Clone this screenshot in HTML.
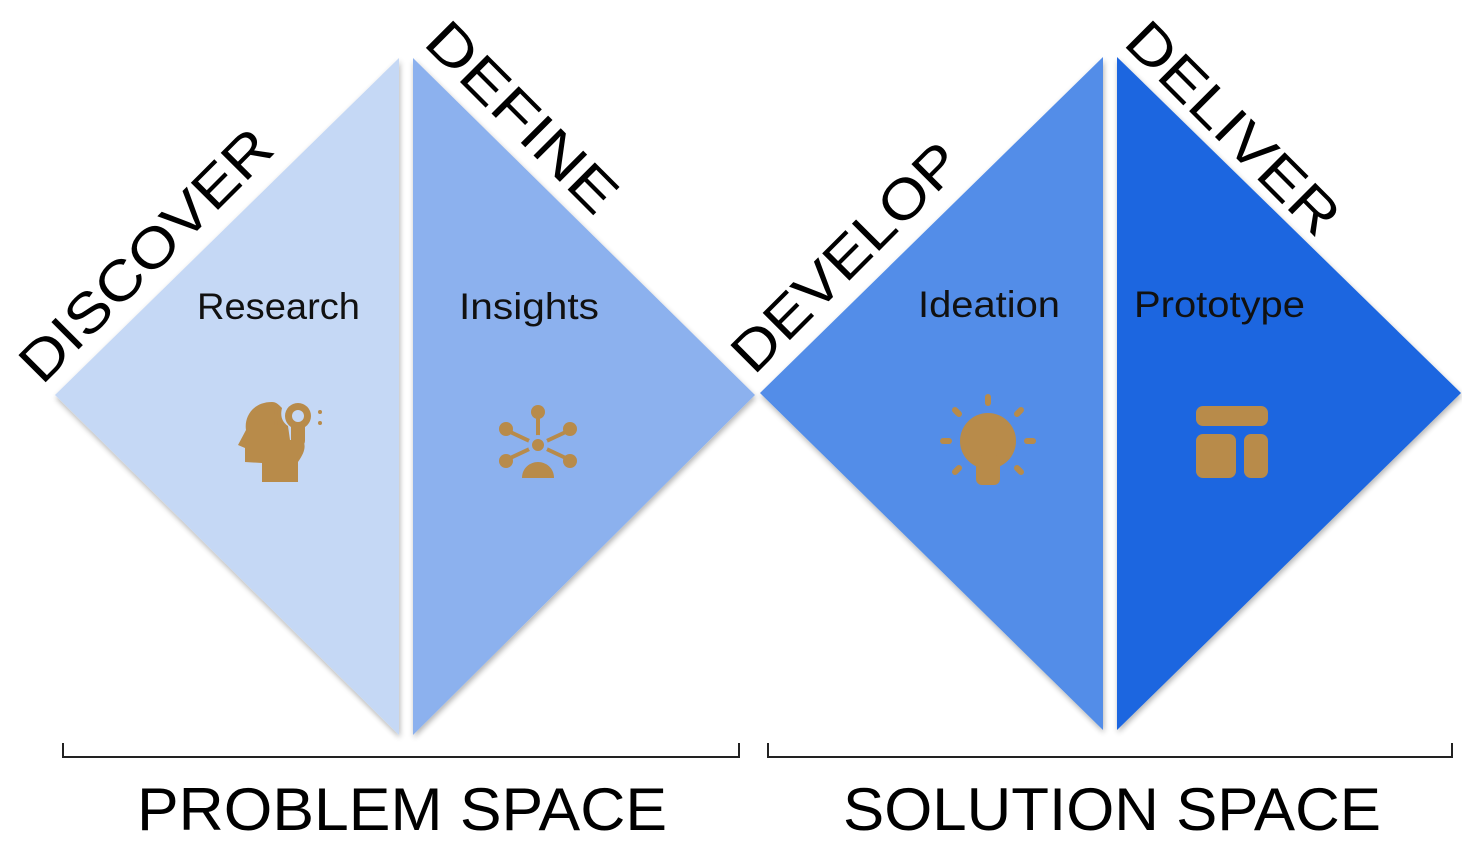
<!DOCTYPE html>
<html><head><meta charset="utf-8"><style>
html,body{margin:0;padding:0;background:#fff;}
svg{display:block;}
text{font-family:"Liberation Sans",sans-serif;}
</style></head><body>
<svg width="1462" height="848" viewBox="0 0 1462 848" xmlns="http://www.w3.org/2000/svg">
<defs>
<filter id="sh" x="-10%" y="-10%" width="120%" height="120%">
<feGaussianBlur in="SourceAlpha" stdDeviation="3"/>
<feOffset dx="1" dy="3"/>
<feComponentTransfer><feFuncA type="linear" slope="0.3"/></feComponentTransfer>
<feMerge><feMergeNode/><feMergeNode in="SourceGraphic"/></feMerge>
</filter>
</defs>
<g filter="url(#sh)">
<polygon points="55,395 399,58 399,735" fill="#c5d8f5"/>
<polygon points="413,58 755,395 413,735" fill="#8cb1ee"/>
<polygon points="760,393 1103,57 1103,730" fill="#528de8"/>
<polygon points="1117,57 1461,393 1117,730" fill="#1a66e0"/>
</g>

<g font-size="56" fill="#000">
<text transform="translate(42,386) rotate(-45)" textLength="332" lengthAdjust="spacingAndGlyphs">DISCOVER</text>
<text transform="translate(422,44) rotate(45)" textLength="245" lengthAdjust="spacingAndGlyphs">DEFINE</text>
<text transform="translate(754,376) rotate(-45)" textLength="298" lengthAdjust="spacingAndGlyphs">DEVELOP</text>
<text transform="translate(1122,44) rotate(45)" textLength="276" lengthAdjust="spacingAndGlyphs">DELIVER</text>
</g>

<g font-size="37" fill="#111">
<text x="197" y="319" textLength="163" lengthAdjust="spacingAndGlyphs">Research</text>
<text x="459" y="319" textLength="140" lengthAdjust="spacingAndGlyphs">Insights</text>
<text x="918" y="317" textLength="142" lengthAdjust="spacingAndGlyphs">Ideation</text>
<text x="1134" y="317" textLength="171" lengthAdjust="spacingAndGlyphs">Prototype</text>
</g>

<g fill="#b88b4a">
<path d="M272,402 C252,402 244,418 246,430 L238,445 L245,448 L245,462 L262,463 L262,482 L298,482 L298,462 C305,452 306,446 303,440 L290,440 L288,426 C282,422 280,416 282,408 C278,404 276,402 272,402 Z"/>
<circle cx="298" cy="416" r="13"/>
<rect x="291" y="420" width="14" height="26" rx="5"/>
<circle cx="298" cy="416" r="6" fill="#c5d8f5"/>
<circle cx="276" cy="412" r="2"/><circle cx="276" cy="423" r="2"/>
<circle cx="320" cy="412" r="2"/><circle cx="320" cy="423" r="2"/>
<g stroke="#b88b4a" stroke-width="4">
<line x1="538" y1="415" x2="538" y2="440"/>
<line x1="506" y1="430" x2="538" y2="445"/>
<line x1="570" y1="430" x2="538" y2="445"/>
<line x1="506" y1="460" x2="538" y2="445"/>
<line x1="570" y1="460" x2="538" y2="445"/>
</g>
<circle cx="538" cy="412" r="7"/>
<circle cx="506" cy="429" r="7"/><circle cx="570" cy="429" r="7"/>
<circle cx="506" cy="461" r="7"/><circle cx="570" cy="461" r="7"/>
<circle cx="538" cy="445" r="8" stroke="#8cb1ee" stroke-width="4"/>
<path d="M522,478 C522,468 530,462 538,462 C546,462 554,468 554,478 Z"/>
<circle cx="988" cy="441" r="28"/>
<rect x="976" y="455" width="24" height="30" rx="6"/>
<g stroke="#b88b4a" stroke-width="6" stroke-linecap="round">
<line x1="988" y1="397" x2="988" y2="403"/>
<line x1="955" y1="410" x2="959" y2="414"/>
<line x1="1021" y1="410" x2="1017" y2="414"/>
<line x1="943" y1="441" x2="949" y2="441"/>
<line x1="1027" y1="441" x2="1033" y2="441"/>
<line x1="955" y1="472" x2="959" y2="468"/>
<line x1="1021" y1="472" x2="1017" y2="468"/>
</g>
<rect x="1196" y="406" width="72" height="20" rx="7"/>
<rect x="1196" y="434" width="40" height="44" rx="7"/>
<rect x="1244" y="434" width="24" height="44" rx="7"/>
</g>

<g stroke="#222" stroke-width="2" fill="none">
<polyline points="63,743 63,757 739,757 739,743"/>
<polyline points="768,743 768,757 1452,757 1452,743"/>
</g>
<g font-size="60" fill="#000">
<text x="137" y="830" textLength="530" lengthAdjust="spacingAndGlyphs">PROBLEM SPACE</text>
<text x="843" y="830" textLength="538" lengthAdjust="spacingAndGlyphs">SOLUTION SPACE</text>
</g>
</svg>
</body></html>
